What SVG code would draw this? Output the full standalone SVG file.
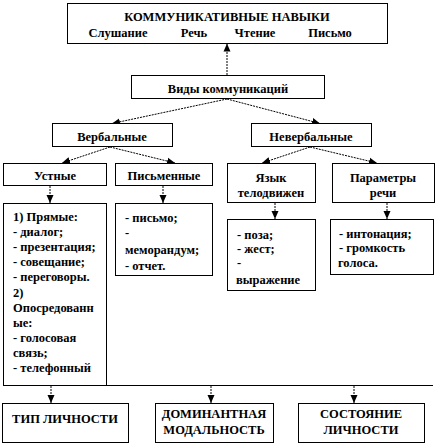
<svg xmlns="http://www.w3.org/2000/svg" width="438" height="446" viewBox="0 0 438 446">
<style>
.box{fill:#fff;stroke:#000;stroke-width:1}
.t{font-family:"Liberation Serif","Times New Roman",serif;font-weight:bold;font-size:12.5px;fill:#000}
.c{text-anchor:middle}
.ln{fill:none;stroke:#000;stroke-width:1;stroke-dasharray:2 1}
.sl{fill:none;stroke:#000;stroke-width:1}
</style>
<defs>
<marker id="ah" markerUnits="userSpaceOnUse" markerWidth="8" markerHeight="8" viewBox="0 0 8 8" refX="8" refY="4" orient="auto">
<path d="M0,0.5 L8,4 L0,7.5 Z" fill="#000"/>
</marker>
</defs>
<rect width="438" height="446" fill="#fff"/>
<g id="connectors">
<line class="ln" x1="227" y1="75" x2="227" y2="43.5" marker-end="url(#ah)"/>
<line class="ln" x1="227" y1="99" x2="112" y2="123.5" marker-end="url(#ah)"/>
<line class="ln" x1="227" y1="99" x2="320" y2="123.5" marker-end="url(#ah)"/>
<line class="ln" x1="110" y1="147" x2="62" y2="163" marker-end="url(#ah)"/>
<line class="ln" x1="110" y1="147" x2="175" y2="163" marker-end="url(#ah)"/>
<line class="ln" x1="310" y1="147" x2="262" y2="163" marker-end="url(#ah)"/>
<line class="ln" x1="310" y1="147" x2="377" y2="163" marker-end="url(#ah)"/>
<line class="ln" x1="50" y1="186" x2="50" y2="203" marker-end="url(#ah)"/>
<line class="ln" x1="163" y1="186" x2="163" y2="203" marker-end="url(#ah)"/>
<line class="ln" x1="275" y1="203" x2="275" y2="219" marker-end="url(#ah)"/>
<line class="ln" x1="387" y1="203" x2="387" y2="219" marker-end="url(#ah)"/>
<line class="sl" x1="107" y1="385.5" x2="433" y2="385.5"/>
<line class="ln" x1="51" y1="386" x2="51" y2="403" marker-end="url(#ah)"/>
<line class="ln" x1="211" y1="386" x2="211" y2="403" marker-end="url(#ah)"/>
<line class="ln" x1="354" y1="386" x2="354" y2="403" marker-end="url(#ah)"/>
</g>
<g id="skills">
<rect class="box" x="67.5" y="3.5" width="320" height="40"/>
<text class="t c" x="227" y="21" font-size="13">КОММУНИКАТИВНЫЕ  НАВЫКИ</text>
<text class="t c" x="118" y="37">Слушание</text>
<text class="t c" x="194" y="37">Речь</text>
<text class="t c" x="255" y="37">Чтение</text>
<text class="t c" x="330" y="37">Письмо</text>
</g>
<g id="types">
<rect class="box" x="131.5" y="75.5" width="193" height="23"/>
<text class="t c" x="228" y="93">Виды коммуникаций</text>
</g>
<g id="verbal">
<rect class="box" x="52.5" y="123.5" width="120" height="23"/>
<text class="t c" x="112" y="141">Вербальные</text>
</g>
<g id="nonverbal">
<rect class="box" x="251.5" y="123.5" width="120" height="23"/>
<text class="t c" x="311" y="141">Невербальные</text>
</g>
<g id="oral">
<rect class="box" x="3.5" y="163.5" width="103" height="22"/>
<text class="t c" x="55" y="180">Устные</text>
</g>
<g id="written">
<rect class="box" x="115.5" y="163.5" width="97" height="22"/>
<text class="t c" x="164" y="180">Письменные</text>
</g>
<g id="body">
<rect class="box" x="227.5" y="163.5" width="88" height="39"/>
<text class="t c" x="271" y="182">Язык</text>
<text class="t c" x="271" y="197">телодвижен</text>
</g>
<g id="speech">
<rect class="box" x="332.5" y="163.5" width="102" height="39"/>
<text class="t c" x="383" y="182">Параметры</text>
<text class="t c" x="383" y="197">речи</text>
</g>
<g id="oral-list">
<rect class="box" x="3.5" y="203.5" width="103" height="182"/>
<text class="t" x="13" y="221">1) Прямые:</text>
<text class="t" x="13" y="236">- диалог;</text>
<text class="t" x="13" y="251">- презентация;</text>
<text class="t" x="13" y="266">- совещание;</text>
<text class="t" x="13" y="281">- переговоры.</text>
<text class="t" x="13" y="297">2)</text>
<text class="t" x="13" y="312">Опосредованн</text>
<text class="t" x="13" y="327">ые:</text>
<text class="t" x="13" y="342">- голосовая</text>
<text class="t" x="13" y="357">связь;</text>
<text class="t" x="13" y="372">- телефонный</text>
</g>
<g id="written-list">
<rect class="box" x="115.5" y="203.5" width="97" height="72"/>
<text class="t" x="125" y="222">- письмо;</text>
<text class="t" x="125" y="237">-</text>
<text class="t" x="125" y="254">меморандум;</text>
<text class="t" x="125" y="270">- отчет.</text>
</g>
<g id="body-list">
<rect class="box" x="227.5" y="219.5" width="88" height="71"/>
<text class="t" x="237" y="239">- поза;</text>
<text class="t" x="237" y="253">- жест;</text>
<text class="t" x="237" y="267">-</text>
<text class="t" x="236" y="284">выражение</text>
</g>
<g id="speech-list">
<rect class="box" x="330.5" y="219.5" width="103" height="55"/>
<text class="t" x="339" y="238">- интонация;</text>
<text class="t" x="339" y="252">- громкость</text>
<text class="t" x="338" y="267">голоса.</text>
</g>
<g id="type">
<rect class="box" x="2.5" y="403.5" width="126" height="39"/>
<text class="t c" x="65" y="423">ТИП ЛИЧНОСТИ</text>
</g>
<g id="modality">
<rect class="box" x="155.5" y="403.5" width="118" height="39"/>
<text class="t c" x="214" y="418">ДОМИНАНТНАЯ</text>
<text class="t c" x="214" y="434">МОДАЛЬНОСТЬ</text>
</g>
<g id="state">
<rect class="box" x="298.5" y="403.5" width="126" height="39"/>
<text class="t c" x="361" y="418">СОСТОЯНИЕ</text>
<text class="t c" x="361" y="434">ЛИЧНОСТИ</text>
</g>
</svg>
